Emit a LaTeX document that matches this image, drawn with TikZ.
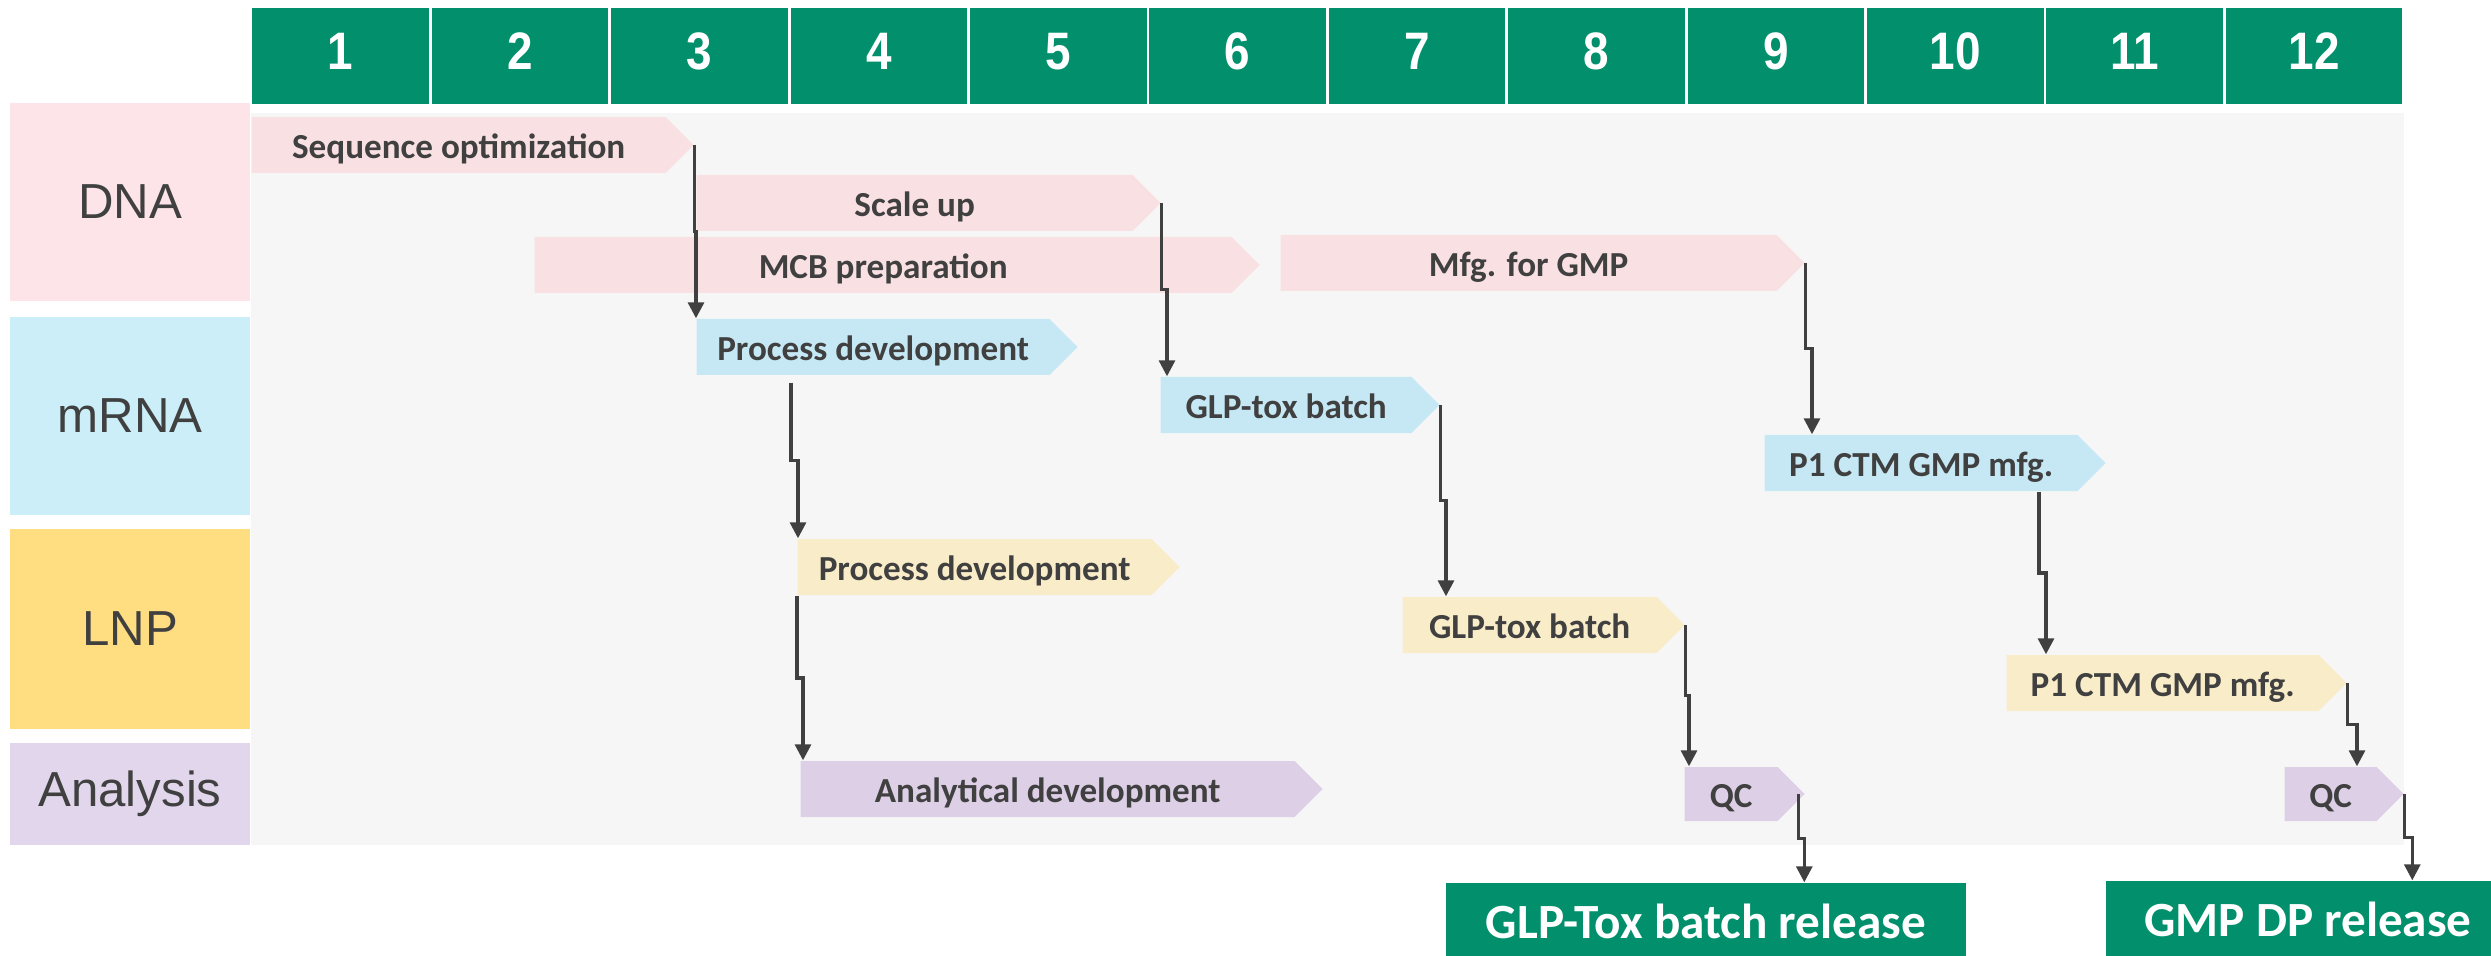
\documentclass[tikz,border=0pt]{standalone}
\usepackage{fontspec}
\setmainfont{Carlito}
\newfontfamily\arialfont{Liberation Sans}
\usepackage{graphicx}
\usepackage{tikz}
\usetikzlibrary{positioning,arrows.meta,shapes.symbols,calc}
\definecolor{hdrgreen}{RGB}{2,144,108}
\definecolor{bggray}{RGB}{246,246,246}
\definecolor{txtgray}{RGB}{64,64,64}
\definecolor{dnalane}{RGB}{253,228,232}
\definecolor{dnabar}{RGB}{249,224,227}
\definecolor{mrnalane}{RGB}{204,238,249}
\definecolor{mrnabar}{RGB}{197,232,244}
\definecolor{lnplane}{RGB}{255,222,130}
\definecolor{lnpbar}{RGB}{249,236,200}
\definecolor{analane}{RGB}{226,214,236}
\definecolor{anabar}{RGB}{220,207,230}
\tikzset{
  hdrcell/.style={fill=hdrgreen, draw=white, line width=0.8pt, minimum width=17.94mm,
    minimum height=9.8mm, inner sep=0pt, text=white, text height=7.9pt, text depth=0pt,
    font=\arialfont\bfseries\fontsize{15}{15}\selectfont},
  lane/.style={fill=#1, minimum width=24mm, inner sep=0pt, text=txtgray,
    font=\arialfont\fontsize{14}{14}\selectfont},
  task/.style={signal, signal to=east, signal pointer angle=90, fill=#1, inner sep=0pt,
    minimum height=5.6mm, anchor=west, text=txtgray, text height=7.6pt, text depth=0pt,
    font=\bfseries\fontsize{10}{12}\selectfont},
  release/.style={fill=hdrgreen, inner sep=0pt, minimum height=8mm, text=white,
    text height=9pt, text depth=0pt, font=\bfseries\fontsize{14}{14}\selectfont},
  conn/.style={draw=txtgray, line width=0.9pt, -{Triangle[length=4.5pt,width=4.5pt]}},
  elbow/.style={to path={|- ($(\tikztostart)!0.5!(\tikztotarget)$) -| (\tikztotarget)}}
}
\begin{document}
\begin{tikzpicture}[x=1mm,y=-1mm]
    \useasboundingbox (0,0) rectangle (249.1,95.6);
    % months
    \foreach \n in {1,...,12}
        \node[hdrcell] (h\n) at ({25.1+(\n-0.5)*17.94},5.6) {\scalebox{0.87}[1]{\n}};
    \fill[bggray] (25.1,11.3) rectangle (240.4,84.5);
    %
    \node[lane=dnalane, minimum height=19.8mm] (dna) at (13,20.2) {DNA};
    \node[lane=mrnalane, minimum height=19.8mm] (mrna) at (13,41.6) {mRNA};
    \node[lane=lnplane, minimum height=20mm] (lnp) at (13,62.9) {LNP};
    \node[lane=analane, minimum height=10.2mm] (ana) at (13,79.4) {Analysis};
    %
    \node[task=dnabar, minimum width=44.2mm] (seq) at (25.1,14.5) {Sequence optimization};
    \node[task=dnabar, minimum width=46.4mm] (scale) at (69.6,20.3) {Scale up};
    \node[task=dnabar, minimum width=72.5mm] (mcb) at (53.4,26.5) {MCB preparation};
    \node[task=dnabar, minimum width=52.4mm] (mfg) at (128,26.3) {Mfg. for GMP};
    \node[task=mrnabar, minimum width=38.1mm] (pdm) at (69.6,34.7) {Process development};
    \node[task=mrnabar, minimum width=27.9mm] (glpm) at (116,40.5) {GLP-tox batch};
    \node[task=mrnabar, minimum width=34.1mm] (ctmm) at (176.4,46.3) {P1 CTM GMP mfg.};
    \node[task=lnpbar, minimum width=38.2mm] (pdl) at (79.7,56.7) {Process development};
    \node[task=lnpbar, minimum width=28.2mm] (glpl) at (140.2,62.5) {GLP-tox batch};
    \node[task=lnpbar, minimum width=34mm] (ctml) at (200.6,68.3) {P1 CTM GMP mfg.};
    \node[task=anabar, minimum width=52.2mm] (ad) at (80,78.9) {Analytical development};
    \node[task=anabar, minimum width=12mm, minimum height=5.4mm] (qc1) at (168.4,79.4) {QC};
    \node[task=anabar, minimum width=11.9mm, minimum height=5.4mm] (qc2) at (228.4,79.4) {QC};
    %
    \node[release, minimum width=52mm] (rel1) at (170.6,92.3) {GLP-Tox batch release};
    \node[release, minimum width=40.4mm] (rel2) at (230.8,92.1) {GMP DP release};
    %
    \draw[conn] (seq.east) to[elbow] (pdm.north west);
    \draw[conn] ([xshift=9.5mm,yshift=-0.7mm]pdm.south west) to[elbow] ([xshift=0.1mm]pdl.north west);
    \draw[conn] (pdl.south west) to[elbow] ([xshift=0.3mm]ad.north west);
    \draw[conn] (scale.east) to[elbow] ([xshift=0.7mm]glpm.north west);
    \draw[conn] (mfg.east) to[elbow] ([xshift=4.8mm]ctmm.north west);
    \draw[conn] (glpm.east) to[elbow] ([xshift=4.4mm]glpl.north west);
    \draw[conn] ([xshift=27.5mm]ctmm.south west) to[elbow] ([xshift=4mm]ctml.north west);
    \draw[conn] (glpl.east) to[elbow] ([xshift=0.5mm]qc1.north west);
    \draw[conn] (ctml.east) to[elbow] ([xshift=7.3mm]qc2.north west);
    \draw[conn] ([xshift=-0.7mm]qc1.east) to[elbow] ([xshift=35.9mm]rel1.north west);
    \draw[conn] (qc2.east) to[elbow] ([xshift=30.7mm]rel2.north west);
\end{tikzpicture}
\end{document}
